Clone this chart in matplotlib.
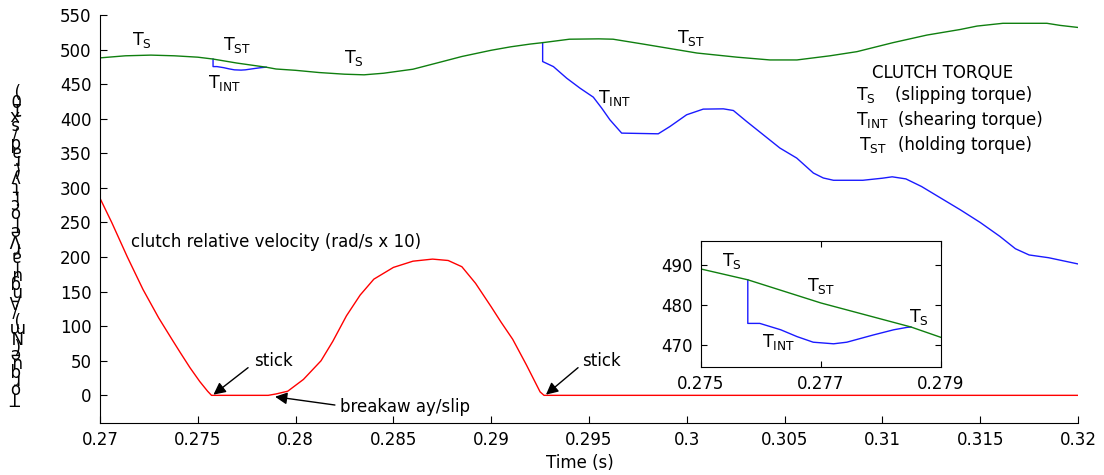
import numpy as np
import matplotlib
matplotlib.use("Agg")
from matplotlib import pyplot as plt

# clutch torque that the slipping / holding curve follows (Nm)
t_torque = [0.2700, 0.2713, 0.2726, 0.2738, 0.2750, 0.27578, 0.2770, 0.2785, 0.2790,
            0.2800, 0.2812, 0.2825, 0.2835, 0.2845, 0.2860, 0.2875, 0.2885, 0.2890,
            0.2900, 0.2910, 0.2920, 0.29263, 0.2940, 0.2955, 0.29623, 0.29776, 0.30052,
            0.30257, 0.30425, 0.30563, 0.30732, 0.3087, 0.31054, 0.31228, 0.31397,
            0.31484, 0.31616, 0.31841, 0.31908, 0.3200]
torque_s = [488, 491, 492, 491, 489, 486.3, 480.5, 474.5, 471.9,
            470, 466.8, 464.4, 463.5, 465.8, 471.6, 482.6, 490, 493,
            499, 504, 508, 510, 515, 515.5, 515, 508, 495,
            489, 485, 485, 491, 497, 510, 521, 529,
            534, 538, 538, 535, 532]

# shearing torque during the first (short) stick phase
t_int1 = [0.27578, 0.27578, 0.27598, 0.27633, 0.27660, 0.27687, 0.27721, 0.27743,
          0.27787, 0.27821, 0.27843, 0.2785]
torque_int1 = [486.3, 475.4, 475.4, 473.8, 472.1, 470.7, 470.3, 470.7,
               472.5, 473.8, 474.4, 474.5]

# shearing torque during the second stick phase
t_int2 = [0.29263, 0.29263, 0.29318, 0.29386, 0.29454, 0.29522, 0.29565, 0.29607,
          0.29667, 0.29854, 0.29914, 0.29999, 0.30084, 0.30187, 0.30238, 0.30306,
          0.30391, 0.30476, 0.30562, 0.30647, 0.30698, 0.3075, 0.3090, 0.3100,
          0.3105, 0.3112, 0.3120, 0.3130, 0.3140, 0.3150, 0.3160, 0.3168, 0.3175,
          0.3185, 0.3195, 0.3200]
torque_int2 = [510, 482.7, 475.4, 458.6, 444.2, 431.2, 415.3, 398.4,
               379.2, 378.2, 388.8, 405.7, 413.9, 414.3, 411.9, 396.0,
               376.8, 357.6, 343.1, 321.5, 314.3, 311, 311, 314,
               316, 313, 302, 285, 268, 250, 230, 212, 203,
               199, 193, 190]

# clutch relative velocity (rad/s x 10)
t_vel = [0.2700, 0.2706, 0.2714, 0.2722, 0.2730, 0.2737, 0.2741, 0.2746, 0.2751,
         0.2755, 0.2757, 0.2786, 0.2790, 0.2796, 0.2804, 0.2813, 0.2819, 0.2826,
         0.2833, 0.2840, 0.2850, 0.2860, 0.2870, 0.2878, 0.2885, 0.2892, 0.2900,
         0.2905, 0.2911, 0.2918, 0.2925, 0.2927, 0.3200]
velocity = [285, 250, 200, 153, 112, 80, 62, 40, 20,
            6, 0, 0, 2, 6, 23, 50, 78, 115,
            145, 168, 185, 194, 197, 195, 186, 162, 128,
            106, 81, 44, 5, 0, 0]

xticks = [0.27, 0.275, 0.28, 0.285, 0.29, 0.295, 0.3, 0.305, 0.31, 0.315, 0.32]
xticklabels = ['0.27', '0.275', '0.28', '0.285', '0.29', '0.295', '0.3', '0.305', '0.31', '0.315', '0.32']
inset_xticks = [0.275, 0.277, 0.279]
inset_yticks = [470, 480, 490]

ylabel_chars = list("Torque(Nm)/AngularVelocity(rad/sx10)")

GREEN = '#0f7f0f'
BLUE = '#1a1aff'
RED = '#ff0000'
FS = 12

W, H = 1104, 475
fig = plt.figure(figsize=(W / 100, H / 100), dpi=100)

def fx(px):
    return px / W

def fy(py):
    return 1 - py / H

ax = fig.add_axes([fx(100), fy(423), fx(1078) - fx(100), fy(15) - fy(423)])

def draw_curves(a):
    a.plot(t_int1, torque_int1, color=BLUE, lw=1.0)
    a.plot(t_int2, torque_int2, color=BLUE, lw=1.0)
    a.plot(t_torque, torque_s, color=GREEN, lw=1.0)
    a.plot(t_vel, velocity, color=RED, lw=1.0)

draw_curves(ax)
ax.set_xlim(0.27, 0.32)
ax.set_ylim(-40, 550)
ax.set_xticks(xticks)
ax.set_xticklabels(xticklabels)
ax.set_yticks(np.arange(0, 551, 50))
ax.tick_params(direction='in', length=5, labelsize=FS, pad=6)
ax.spines['top'].set_visible(False)
ax.spines['right'].set_visible(False)

def T(sub):
    return r'$\mathregular{T_{%s}}$' % sub

# curve labels
for x, y, s in [(0.27162, 506.7, 'S'), (0.27627, 499.5, 'ST'), (0.27554, 444.2, 'INT'),
                (0.28247, 480.3, 'S'), (0.29948, 509, 'ST'), (0.29548, 422.5, 'INT')]:
    ax.text(x, y, T(s), fontsize=FS + 0.5, va='baseline', ha='left')

ax.text(0.2716, 222, 'clutch relative velocity (rad/s x 10)', fontsize=FS, va='center')

arrow = dict(arrowstyle='-|>', color='black', lw=1.0, mutation_scale=18, shrinkA=0, shrinkB=0)
ax.text(0.27787, 50, 'stick', fontsize=FS, va='center')
ax.annotate('', xy=(0.2758, 1), xytext=(0.27757, 40), arrowprops=arrow)
ax.text(0.29464, 50, 'stick', fontsize=FS, va='center')
ax.annotate('', xy=(0.2928, 1), xytext=(0.29444, 40), arrowprops=arrow)
ax.text(0.28227, -17, 'breakaw ay/slip', fontsize=FS, va='center')
ax.annotate('', xy=(0.27895, -2), xytext=(0.28201, -14), arrowprops=arrow)

# legend block
fig.text(fx(872), fy(78), 'CLUTCH TORQUE', fontsize=FS, va='baseline')
fig.text(fx(856), fy(100), T('S'), fontsize=FS + 0.5, va='baseline')
fig.text(fx(895), fy(100), '(slipping torque)', fontsize=FS, va='baseline')
fig.text(fx(856), fy(125), T('INT'), fontsize=FS + 0.5, va='baseline')
fig.text(fx(898), fy(125), '(shearing torque)', fontsize=FS, va='baseline')
fig.text(fx(859), fy(150), T('ST'), fontsize=FS + 0.5, va='baseline')
fig.text(fx(898), fy(150), '(holding torque)', fontsize=FS, va='baseline')

fig.text(fx(580), fy(463), 'Time (s)', fontsize=FS, ha='center', va='center')

# y label: characters stacked and turned upside down (one text block)
fig.text(fx(15), fy(243), "\n".join(ylabel_chars), fontsize=FS, rotation=180,
         ha='center', va='center', multialignment='center', linespacing=0.343)

# inset zoom on the first stick phase
ins = fig.add_axes([fx(701), fy(367), fx(941) - fx(701), fy(241) - fy(367)])
draw_curves(ins)
ins.set_xlim(0.275, 0.279)
ins.set_ylim(464.5, 496)
ins.set_xticks(inset_xticks)
ins.set_xticklabels(['0.275', '0.277', '0.279'])
ins.set_yticks(inset_yticks)
ins.tick_params(direction='in', length=4, labelsize=FS, pad=6, top=True, right=True)
for x, y, s in [(0.275345, 489.8, 'S'), (0.27676, 483.5, 'ST'),
                (0.27601, 469.6, 'INT'), (0.27847, 475.8, 'S')]:
    ins.text(x, y, T(s), fontsize=FS + 0.5, va='baseline', ha='left')

fig.savefig('out.png', dpi=100)
